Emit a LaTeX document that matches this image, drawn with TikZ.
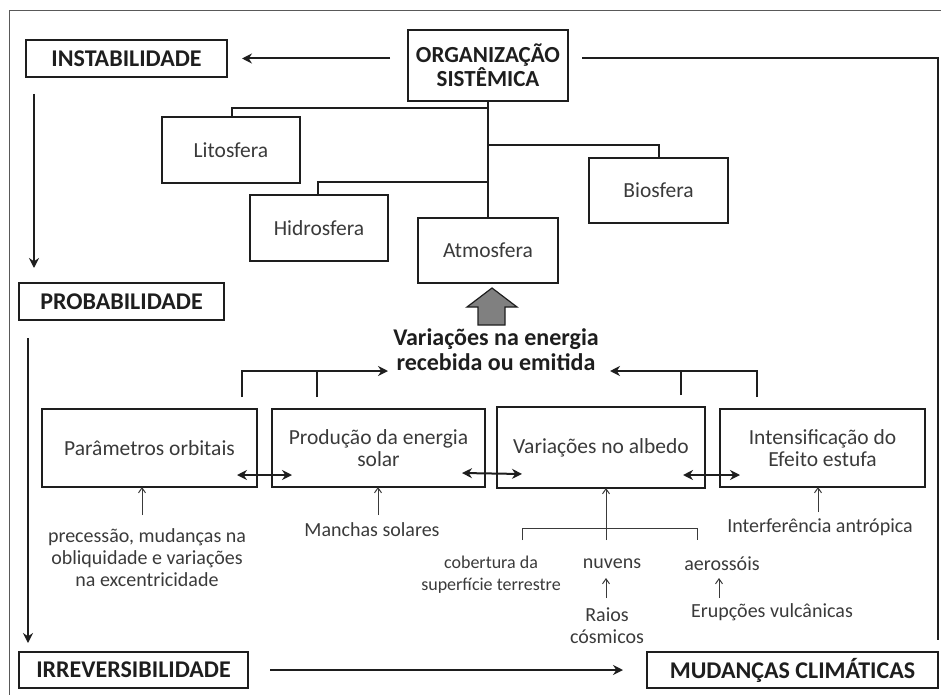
\documentclass[tikz,border=0pt]{standalone}
\usepackage{fontspec}
\setmainfont{Carlito}
\usetikzlibrary{arrows.meta}
\definecolor{ink}{HTML}{1E1E1E}
\definecolor{txt}{HTML}{3A3A3A}
\tikzset{
  box/.style={draw=ink, line width=2pt, inner sep=0pt, outer sep=0pt, align=center},
  bigbox/.style={box, font=\bfseries\fontsize{24}{24}\selectfont, text=ink},
  sphere/.style={box, font=\fontsize{21.5}{21.5}\selectfont, text=txt},
  cause/.style={box, font=\fontsize{21.5}{22}\selectfont, text=txt},
  lbl/.style={inner sep=0pt, align=center, font=\fontsize{20}{22}\selectfont, text=txt},
  conn/.style={draw=ink, line width=2pt},
  arr/.style={conn, -{Stealth[length=10pt,width=10pt]}},
  darr/.style={conn, {Stealth[length=10pt,width=10pt]}-{Stealth[length=10pt,width=10pt]}},
  tarr/.style={draw=txt, line width=1pt, -{Straight Barb[length=5pt,width=7pt]}},
  tline/.style={draw=txt, line width=1pt},
}
\begin{document}
\begin{tikzpicture}[x=1pt,y=-1pt]
\useasboundingbox (0,0) rectangle (941,695);
% frame
\draw[gray!70!black, line width=1pt] (9,695) -- (9,11) -- (941,11);

% main stages
\node[bigbox, minimum width=201pt, minimum height=37pt] (inst) at (126.5,58.5) {INSTABILIDADE};
\node[bigbox, minimum width=205pt, minimum height=37pt] (prob) at (121.5,301.5) {PROBABILIDADE};
\node[bigbox, minimum width=229pt, minimum height=36pt] (irrev) at (133.5,670) {IRREVERSIBILIDADE};
\node[bigbox, minimum width=291pt, minimum height=36pt] (mud) at (792.5,670) {MUDANÇAS CLIMÁTICAS};
\node[bigbox, font=\bfseries\fontsize{23}{22}\selectfont, minimum width=160pt, minimum height=71pt] (org) at (488,65.5) {ORGANIZAÇÃO\\SISTÊMICA};

% spheres
\node[sphere, minimum width=138pt, minimum height=66pt] (lito) at (231,150) {Litosfera};
\node[sphere, minimum width=138pt, minimum height=66pt] (hidro) at (319,228) {Hidrosfera};
\node[sphere, minimum width=140pt, minimum height=65pt] (atmo) at (488,250.5) {Atmosfera};
\node[sphere, minimum width=139pt, minimum height=65pt] (bio) at (658.5,190.5) {Biosfera};

% tree from the system to the spheres
\draw[conn] (org.south) -- (atmo.north);
\coordinate (t1) at (488,108);
\coordinate (t2) at (488,182);
\coordinate (t3) at (488,145);
\draw[conn] (t1) -| ([xshift=1pt]lito.north);
\draw[conn] (t2) -| ([xshift=-1pt]hidro.north);
\draw[conn] (t3) -| (bio.north);

% stage flow
\draw[arr, shorten <=18pt, shorten >=15pt] (org.west |- inst.east) -- (inst.east);
\draw[conn, shorten <=14pt, shorten >=12pt] (org.east |- inst.east) -| (mud.north east);
\draw[arr, shorten <=17pt, shorten >=15pt] ([xshift=8pt]inst.south west) -- ([xshift=15pt]prob.north west);
\draw[arr, shorten <=18pt, shorten >=9pt] ([xshift=9pt]prob.south west) -- ([xshift=9pt]irrev.north west);
\draw[arr, shorten <=22pt, shorten >=24pt] (irrev.east) -- (mud.west);

% energy variations
\node[inner sep=0pt, align=center, font=\bfseries\fontsize{24}{25}\selectfont, text=ink] (energia) at (496,350) {Variações na energia\\recebida ou emitida};
\draw[ink, line width=1.2pt, fill=gray] (492,288) -- (517,307) -- (505,307) -- (505,325) -- (478,325) -- (478,307) -- (467,307) -- cycle;

% forcing boxes
\node[cause, minimum width=215pt, minimum height=78pt] (param) at (149.5,448) {Parâmetros orbitais};
\node[cause, minimum width=213pt, minimum height=78pt] (prod) at (378.5,448) {Produção da energia\\solar};
\node[cause, minimum width=208pt, minimum height=81pt] (albedo) at (601,447.5) {Variações no albedo};
\node[cause, minimum width=205pt, minimum height=78pt] (intens) at (822.5,448) {Intensificação do\\Efeito estufa};

% brackets into the energy balance
\coordinate (lt) at (388,371);
\coordinate (rt) at (610,371);
\coordinate (bl1) at ([xshift=-15pt,yshift=12pt]param.north east);
\coordinate (bl2) at ([xshift=45pt,yshift=12pt]prod.north west);
\coordinate (br1) at ([xshift=37pt,yshift=12pt]intens.north west);
\coordinate (br2) at ([xshift=-24pt,yshift=12pt]albedo.north east);
\draw[arr] (bl1) |- (lt);
\draw[conn] (bl2) -- (bl2 |- lt);
\draw[arr] (br1) |- (rt);
\draw[conn] (br2) -- (br2 |- rt);

% mutual interactions
\draw[darr] ([xshift=-20pt,yshift=12pt]param.south east) -- ([xshift=20pt,yshift=12pt]prod.south west);
\draw[darr] ([xshift=-23pt,yshift=14pt]prod.south east) -- ([xshift=25pt,yshift=14pt]albedo.south west);
\draw[darr] ([xshift=-22pt,yshift=13pt]albedo.south east) -- ([xshift=20pt,yshift=12pt]intens.south west);

% drivers
\node[lbl] (prec) at (147,558) {precessão, mudanças na\\obliquidade e variações\\na excentricidade};
\node[lbl] (manchas) at (372,530) {Manchas solares};
\node[lbl] (interf) at (820,527) {Interferência antrópica};
\node[lbl, font=\fontsize{18}{22}\selectfont] (cob) at (491,575) {cobertura da\\superfície terrestre};
\node[lbl] (nuv) at (612,564) {nuvens};
\node[lbl] (aer) at (722,564) {aerossóis};
\node[lbl] (raios) at (607,625.5) {Raios\\cósmicos};
\node[lbl] (erup) at (772,612) {Erupções vulcânicas};

\coordinate (pa) at (142,515);
\coordinate (ma) at (378,515);
\coordinate (ia) at (818,512);
\draw[tarr] (pa) -- (pa |- param.south);
\draw[tarr] (ma) -- (ma |- prod.south);
\draw[tarr] (ia) -- (ia |- intens.south);

% albedo factors
\coordinate (bk1) at (522,540);
\coordinate (bk2) at (697,540);
\coordinate (bkc) at (606,540);
\draw[tline] (bk1) |- (697,528) -- (bk2);
\draw[tarr] (bkc) -- (bkc |- albedo.south);
\coordinate (na) at (606,598);
\coordinate (aa) at (719,598);
\draw[tarr] (na) -- (606,578);
\draw[tarr] (aa) -- (719,578);
\end{tikzpicture}
\end{document}
